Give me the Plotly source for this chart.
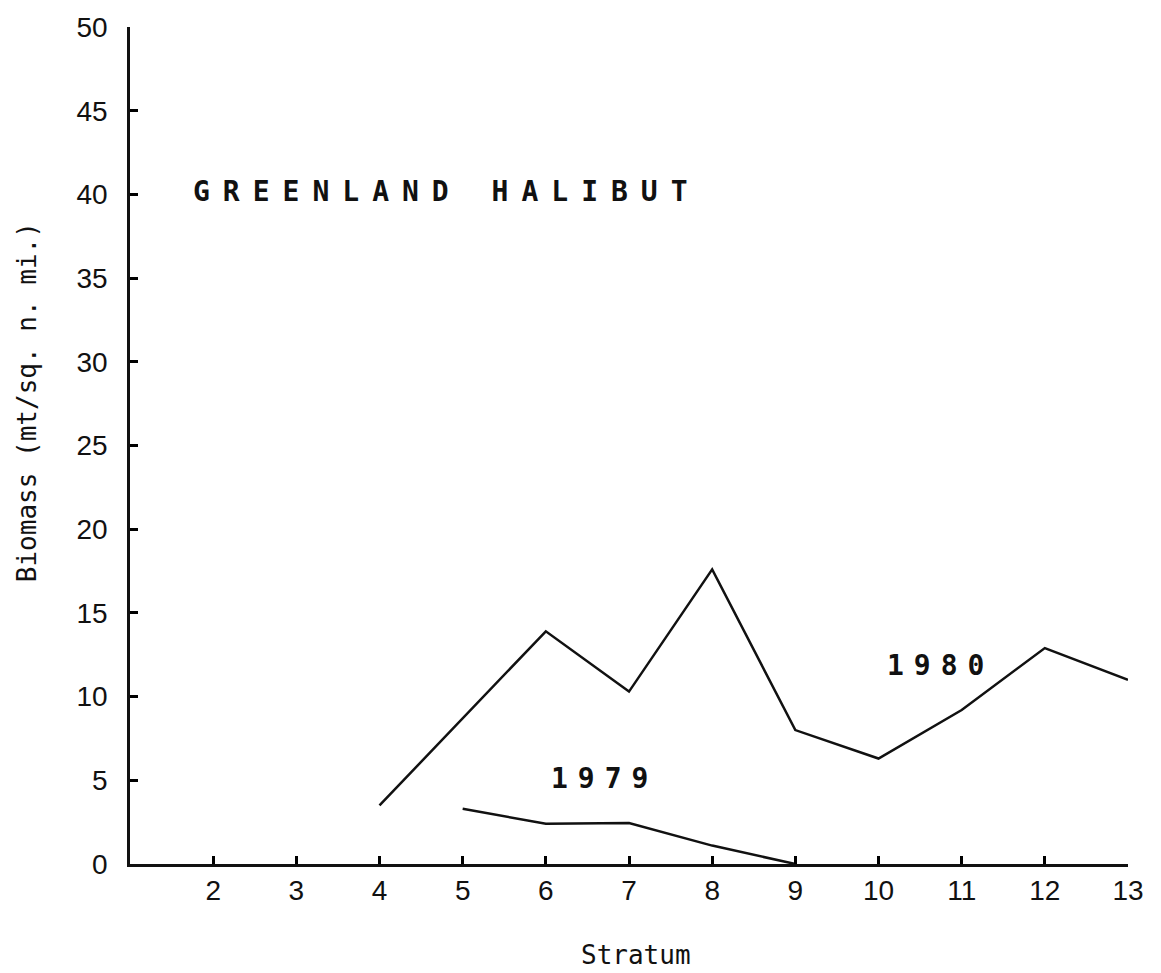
import plotly.graph_objects as go

# Greenland halibut biomass by stratum
strata_1980 = [4, 5, 6, 7, 8, 9, 10, 11, 12, 13]
biomass_1980 = [3.5, 8.7, 13.9, 10.3, 17.6, 8.0, 6.3, 9.2, 12.9, 11.0]

strata_1979 = [5, 6, 7, 8, 9]
biomass_1979 = [3.3, 2.4, 2.45, 1.1, 0.0]

x_ticks = [2, 3, 4, 5, 6, 7, 8, 9, 10, 11, 12, 13]
y_ticks = [0, 5, 10, 15, 20, 25, 30, 35, 40, 45, 50]

INK = "#111111"
MONO = "DejaVu Sans Mono, monospace"
NUM = "Liberation Sans Narrow, Liberation Sans, Arial, sans-serif"

fig = go.Figure()
fig.add_trace(go.Scatter(x=strata_1980, y=biomass_1980, mode="lines",
                         line=dict(color=INK, width=2.5), name="1980",
                         cliponaxis=False))
fig.add_trace(go.Scatter(x=strata_1979, y=biomass_1979, mode="lines",
                         line=dict(color=INK, width=2.5), name="1979",
                         cliponaxis=False))

label_font = dict(family=MONO, size=28, color=INK)
fig.add_annotation(x=4.81, y=40.2, xref="x", yref="y", showarrow=False,
                   text='<b><span style="letter-spacing:13px">GREENLAND HALIBUT</span></b>',
                   font=label_font)
fig.add_annotation(x=6.70, y=5.13, xref="x", yref="y", showarrow=False,
                   text='<b><span style="letter-spacing:10px">1979</span></b>',
                   font=label_font)
fig.add_annotation(x=10.74, y=11.86, xref="x", yref="y", showarrow=False,
                   text='<b><span style="letter-spacing:10px">1980</span></b>',
                   font=label_font)

# axis titles
fig.add_annotation(x=-0.103, y=0.552, xref="paper", yref="paper", showarrow=False,
                   xanchor="center", yanchor="middle",
                   text="Biomass (mt/sq. n. mi.)", textangle=-90,
                   font=dict(family=MONO, size=26, color=INK))
fig.add_annotation(x=0.507, y=-0.1085, xref="paper", yref="paper", showarrow=False,
                   xanchor="center", yanchor="middle",
                   text="Stratum", font=dict(family=MONO, size=26, color=INK))

axis_common = dict(showgrid=False, zeroline=False, showline=True,
                   linecolor=INK, linewidth=2.5, ticks="inside", ticklen=8,
                   tickwidth=3, tickcolor="#000000",
                   tickfont=dict(family=NUM, size=28, color=INK))

fig.update_xaxes(range=[1, 13], tickvals=x_ticks, ticktext=[str(v) for v in x_ticks],
                 tickmode="array", **axis_common)
fig.update_yaxes(range=[0, 50], tickvals=y_ticks, tickmode="array",
                 ticktext=[str(v) + "\u2002" for v in y_ticks],
                 **axis_common)

fig.update_layout(width=1161, height=973, showlegend=False,
                  margin=dict(l=130, r=33, t=25, b=109),
                  paper_bgcolor="white", plot_bgcolor="white")

fig.write_html("out.html")
